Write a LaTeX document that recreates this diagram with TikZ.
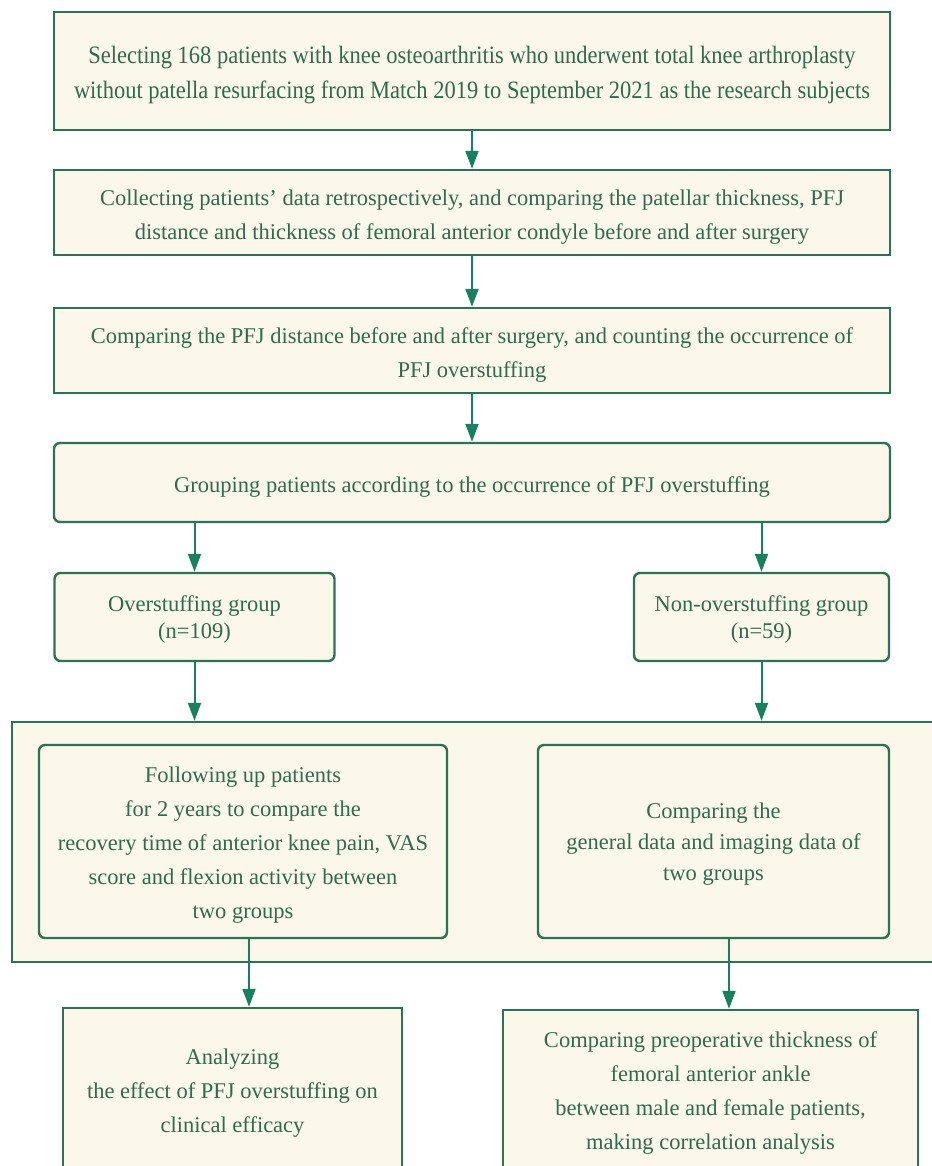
\documentclass[tikz,border=0pt]{standalone}
\usepackage{fontspec}
\setmainfont{Liberation Serif}
\newfontfamily\condfont[FakeStretch=0.9]{Liberation Serif}
\usetikzlibrary{arrows.meta,calc}
\definecolor{boxline}{HTML}{2C7355}
\definecolor{boxfill}{HTML}{FBF7EA}
\definecolor{txt}{HTML}{2D6C4F}
\definecolor{arr}{HTML}{17805F}
\tikzset{
  boxsq/.style={draw=boxline,fill=boxfill,line width=2.4pt,inner sep=0pt},
  boxrd/.style={boxsq,rounded corners=6pt},
  lbl/.style={inner sep=0pt,align=center,text=txt,font=\fontsize{22.5}{34}\selectfont},
  flow/.style={draw=arr,line width=2pt,-{Triangle[length=18pt,width=13pt]}}
}
\begin{document}
\begin{tikzpicture}[x=1pt,y=-1pt]
\useasboundingbox (0,0) rectangle (931,1166);
% boxes
\node[boxsq,minimum width=836pt,minimum height=118pt] (b1) at (472,71) {};
\node[boxsq,minimum width=836pt,minimum height=85pt] (b2) at (472,212.5) {};
\node[boxsq,minimum width=836pt,minimum height=85pt] (b3) at (472,350.5) {};
\node[boxrd,minimum width=836pt,minimum height=79pt] (b4) at (472,482.5) {};
\node[boxrd,minimum width=280pt,minimum height=88pt] (g1) at (194.5,617) {};
\node[boxrd,minimum width=255pt,minimum height=88pt] (g2) at (761.5,617) {};
\node[boxsq,minimum width=930pt,minimum height=240pt] (ct) at (477,842) {};
\node[boxrd,minimum width=408pt,minimum height=193pt] (inL) at (243,841.5) {};
\node[boxrd,minimum width=351pt,minimum height=193pt] (inR) at (713.5,841.5) {};
\node[boxsq,minimum width=339pt,minimum height=190pt] (oL) at (232.5,1103) {};
\node[boxsq,minimum width=415pt,minimum height=190pt] (oR) at (710.5,1105) {};
% texts
\node[lbl,font=\condfont\fontsize{25}{35}\selectfont] (b1t) at ([yshift=-4.5pt]b1.center)
 {Selecting 168 patients with knee osteoarthritis who underwent total knee arthroplasty\\without patella resurfacing from Match 2019 to September 2021 as the research subjects};
\node[lbl] (b2t) at ([yshift=-4.5pt]b2.center)
 {Collecting patients' data retrospectively, and comparing the patellar thickness, PFJ\\distance and thickness of femoral anterior condyle before and after surgery};
\node[lbl] (b3t) at ([yshift=-4.5pt]b3.center)
 {Comparing the PFJ distance before and after surgery, and counting the occurrence of\\PFJ overstuffing};
\node[lbl] (b4t) at ([yshift=-4.5pt]b4.center)
 {Grouping patients according to the occurrence of PFJ overstuffing};
\node[lbl,font=\fontsize{22.5}{27}\selectfont] (g1t) at ([yshift=-2pt]g1.center)
 {Overstuffing group\\(n=109)};
\node[lbl,font=\fontsize{22.5}{27}\selectfont] (g2t) at ([yshift=-2pt]g2.center)
 {Non-overstuffing group\\(n=59)};
\node[lbl] (inLt) at ([yshift=-4pt]inL.center)
 {Following up patients\\for 2 years to compare the\\recovery time of anterior knee pain, VAS\\score and flexion activity between\\two groups};
\node[lbl,font=\fontsize{22.5}{31}\selectfont] (inRt) at ([yshift=-3pt]inR.center)
 {Comparing the\\general data and imaging data of\\two groups};
\node[lbl] (oLt) at (232.5,1093)
 {Analyzing\\the effect of PFJ overstuffing on\\clinical efficacy};
\node[lbl] (oRt) at (710.5,1092.5)
 {Comparing preoperative thickness of\\femoral anterior ankle\\between male and female patients,\\making correlation analysis};
% connectors
\draw[flow] (b1) -- (b2);
\draw[flow] (b2) -- (b3);
\draw[flow] (b3) -- (b4);
\draw[flow] (b4.south -| g1) -- (g1);
\draw[flow] (b4.south -| g2) -- (g2);
\draw[flow] (g1) -- (g1.south |- ct.north);
\draw[flow] (g2) -- (g2.south |- ct.north);
\draw[flow] ([xshift=6pt]inL.south) -- ([xshift=6pt]inL.south |- oL.north);
\draw[flow] ([xshift=15.5pt]inR.south) -- ([xshift=15.5pt]inR.south |- oR.north);
\end{tikzpicture}
\end{document}
